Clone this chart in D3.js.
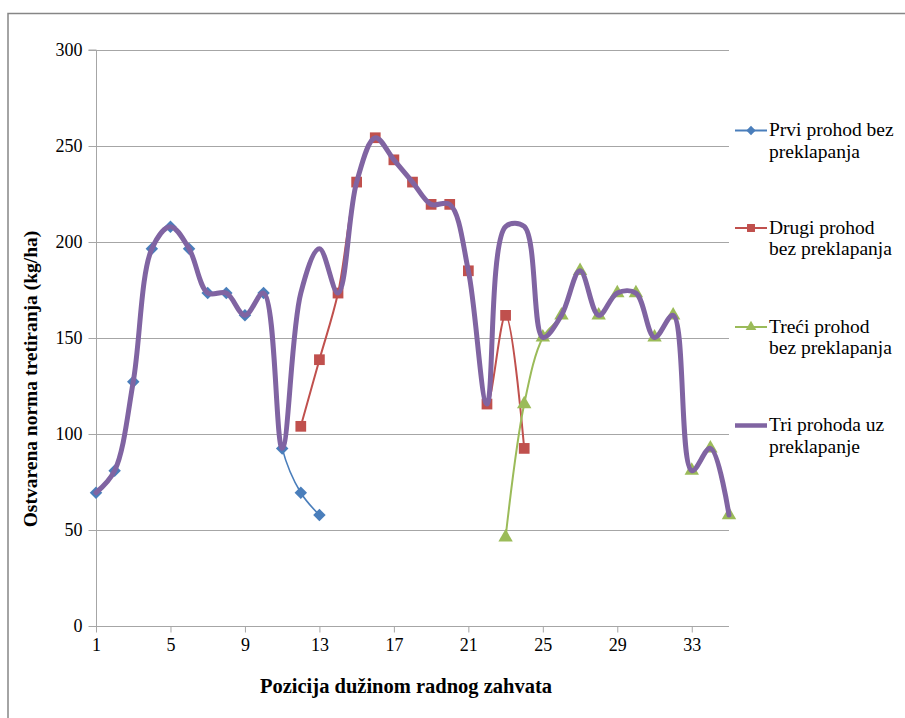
<!DOCTYPE html>
<html><head><meta charset="utf-8">
<script src="https://cdn.jsdelivr.net/npm/d3@7/dist/d3.min.js"></script>
<style>body{margin:0;background:#fff;}svg{display:block;}svg text{font-family:'Liberation Serif','Tinos','DejaVu Serif',serif !important;fill:#000;}</style>
</head><body><svg id="c" width="905" height="718"></svg>
<script>
const positions = d3.range(1, 36);
const xTickLabels = [1, 5, 9, 13, 17, 21, 25, 29, 33];
const yTicks = [0, 50, 100, 150, 200, 250, 300];
const seriesNames = ["Prvi prohod bez preklapanja", "Drugi prohod bez preklapanja", "Treći prohod bez preklapanja", "Tri prohoda uz preklapanje"];
const legendLines = [["Prvi prohod bez", "preklapanja"], ["Drugi prohod", "bez preklapanja"], ["Treći prohod", "bez preklapanja"], ["Tri prohoda uz", "preklapanje"]];
const prviX = d3.range(1, 14);
const prviY = [69.4, 80.9, 127.2, 196.5, 208.0, 196.5, 173.4, 173.4, 161.8, 173.4, 92.5, 69.4, 57.8];
const drugiX = d3.range(12, 25);
const drugiY = [104.0, 138.7, 173.4, 231.2, 254.3, 242.8, 231.2, 219.6, 219.6, 185.0, 115.6, 161.8, 92.5];
const treciX = d3.range(23, 36);
const treciY = [46.2, 115.6, 150.3, 161.8, 185.0, 161.8, 173.4, 173.4, 150.3, 161.8, 80.9, 92.5, 57.8];
const triX = d3.range(1, 36);
const triY = [69.4, 80.9, 127.2, 196.5, 208.0, 196.5, 173.4, 173.4, 161.8, 173.4, 92.5, 173.4, 196.5, 173.4, 231.2, 254.3, 242.8, 231.2, 219.6, 219.6, 185.0, 115.6, 208.0, 208.1, 150.3, 161.8, 185.0, 161.8, 173.4, 173.4, 150.3, 161.8, 80.9, 92.5, 57.8];

const svg = d3.select("#c");
const L = 96, R = 729, T = 50, B = 626;
const x = d3.scaleLinear().domain([1, 35]).range([L, R]);
const y = d3.scaleLinear().domain([0, 300]).range([B, T]);

svg.append("rect").attr("x", 8).attr("y", 13.5).attr("width", 920).attr("height", 720)
  .attr("fill", "none").attr("stroke", "#868686").attr("stroke-width", 1.5);

svg.append("g").selectAll("line").data(yTicks.filter(v => v > 0)).join("line")
  .attr("x1", L).attr("x2", R).attr("y1", d => Math.round(y(d)) + 0.5).attr("y2", d => Math.round(y(d)) + 0.5)
  .attr("stroke", "#a6a6a6").attr("stroke-width", 1);

const yAxis = d3.axisLeft(y).tickValues(yTicks).tickSize(8).tickPadding(6);
const gy = svg.append("g").attr("transform", `translate(${L + 0.5},0)`).call(yAxis).attr("font-family", null);
gy.select(".domain").attr("stroke", "#a6a6a6").attr("d", `M-8,${T}H0V${B}`);
gy.selectAll(".tick line").attr("stroke", "#a6a6a6");
gy.selectAll(".tick text").attr("font-size", 18);

const xAxis = d3.axisBottom(x).tickValues(xTickLabels).tickSize(6).tickPadding(6).tickFormat(d3.format("d"));
const gx = svg.append("g").attr("transform", `translate(0,${B + 0.5})`).call(xAxis).attr("font-family", null);
gx.select(".domain").attr("stroke", "#a6a6a6").attr("d", `M${L},0H${R}`);
gx.selectAll(".tick line").attr("stroke", "#a6a6a6");
gx.selectAll(".tick text").attr("font-size", 18);

svg.append("text").attr("x", 406).attr("y", 693).attr("text-anchor", "middle")
  .attr("font-weight", "bold").attr("font-size", 20.5).text("Pozicija dužinom radnog zahvata");
svg.append("text").attr("transform", "translate(37,379) rotate(-90)").attr("text-anchor", "middle")
  .attr("font-weight", "bold").attr("font-size", 19.5).text("Ostvarena norma tretiranja (kg/ha)");

const line = d3.line().x(d => x(d[0])).y(d => y(d[1])).curve(d3.curveCatmullRom.alpha(0.5));
const zip = (a, b) => a.map((v, i) => [v, b[i]]);

const cfg = [
  {xs: prviX, ys: prviY, color: "#4A7EBB", w: 1.6, sym: d3.symbolSquare, size: 78, rot: 45},
  {xs: drugiX, ys: drugiY, color: "#C0504D", w: 2, sym: d3.symbolSquare, size: 115, rot: 0},
  {xs: treciX, ys: treciY, color: "#9BBB59", w: 2, sym: d3.symbolTriangle, size: 90, rot: 0},
  {xs: triX, ys: triY, color: "#8064A2", w: 5, sym: null}
];

cfg.forEach(c => {
  const pts = zip(c.xs, c.ys);
  svg.append("path").datum(pts).attr("d", line).attr("fill", "none")
    .attr("stroke", c.color).attr("stroke-width", c.w).attr("stroke-linejoin", "round").attr("stroke-linecap", "round");
  if (c.sym) {
    svg.append("g").selectAll("path").data(pts).join("path")
      .attr("d", d3.symbol().type(c.sym).size(c.size))
      .attr("transform", d => `translate(${x(d[0])},${y(d[1])}) rotate(${c.rot})`)
      .attr("fill", c.color);
  }
});

const legY = [130.5, 228, 327, 425.5];
const leg = svg.append("g");
cfg.forEach((c, i) => {
  const g = leg.append("g").attr("transform", `translate(0,${legY[i]})`);
  g.append("line").attr("x1", 735).attr("x2", 767).attr("y1", 0).attr("y2", 0)
    .attr("stroke", c.color).attr("stroke-width", c.w === 5 ? 4.5 : 2);
  if (c.sym) g.append("path").attr("d", d3.symbol().type(c.sym).size(c.size * 0.55)).attr("transform", `translate(751,0) rotate(${c.rot})`).attr("fill", c.color);
  legendLines[i].forEach((t, j) => g.append("text").attr("x", 769).attr("y", 5.5 + j * 21.5).attr("font-size", 19.5).text(t));
});
</script></body></html>
